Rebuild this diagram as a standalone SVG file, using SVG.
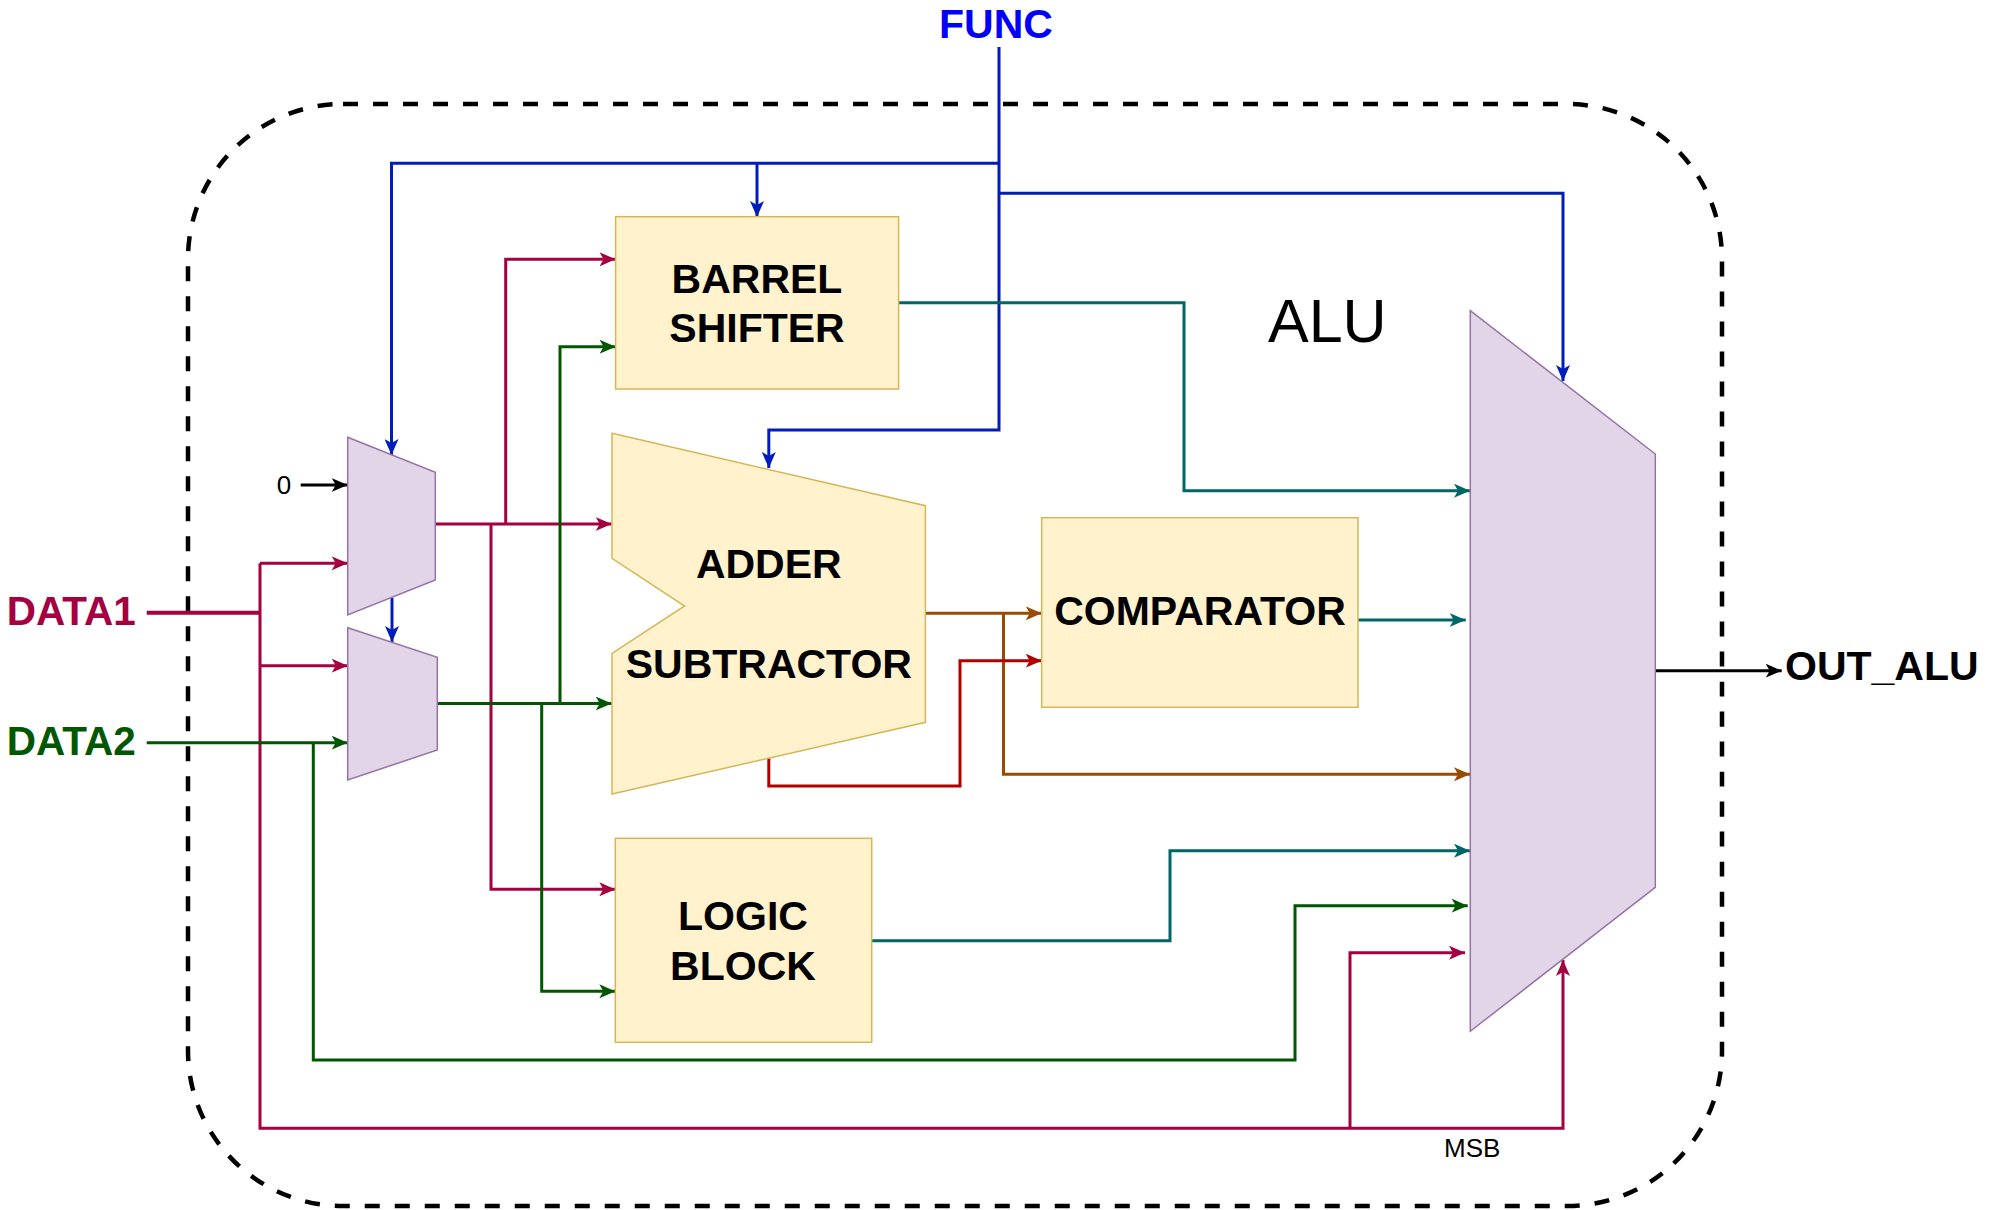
<svg xmlns="http://www.w3.org/2000/svg" width="2000" height="1210" viewBox="0 0 2000 1210">
<style>
.mux{fill:#E1D5E7;stroke:#9673A6;stroke-width:1.5}
.blk{fill:#FFF2CC;stroke:#D6B656;stroke-width:1.5}
.w{fill:none;stroke-width:3;stroke-linejoin:miter}
.r{stroke:#A50040}.g{stroke:#005700}.b{stroke:#001DBC}.t{stroke:#006666}.o{stroke:#994C00}.d{stroke:#B20000}.k{stroke:#000}
.lbl{font-family:"Liberation Sans",Arial,Helvetica,sans-serif;font-weight:bold;font-size:41px}
.reg{font-family:"Liberation Sans",Arial,Helvetica,sans-serif;font-size:26px}
</style>
<defs>
<marker id="ar" markerUnits="userSpaceOnUse" markerWidth="16" markerHeight="14" viewBox="0 0 16 14" refX="16" refY="7" orient="auto"><path d="M0,0 L16,7 L0,14 L4,7 Z" fill="#A50040"/></marker>
<marker id="ag" markerUnits="userSpaceOnUse" markerWidth="16" markerHeight="14" viewBox="0 0 16 14" refX="16" refY="7" orient="auto"><path d="M0,0 L16,7 L0,14 L4,7 Z" fill="#005700"/></marker>
<marker id="ab" markerUnits="userSpaceOnUse" markerWidth="16" markerHeight="14" viewBox="0 0 16 14" refX="16" refY="7" orient="auto"><path d="M0,0 L16,7 L0,14 L4,7 Z" fill="#001DBC"/></marker>
<marker id="at" markerUnits="userSpaceOnUse" markerWidth="16" markerHeight="14" viewBox="0 0 16 14" refX="16" refY="7" orient="auto"><path d="M0,0 L16,7 L0,14 L4,7 Z" fill="#006666"/></marker>
<marker id="ao" markerUnits="userSpaceOnUse" markerWidth="16" markerHeight="14" viewBox="0 0 16 14" refX="16" refY="7" orient="auto"><path d="M0,0 L16,7 L0,14 L4,7 Z" fill="#994C00"/></marker>
<marker id="ad" markerUnits="userSpaceOnUse" markerWidth="16" markerHeight="14" viewBox="0 0 16 14" refX="16" refY="7" orient="auto"><path d="M0,0 L16,7 L0,14 L4,7 Z" fill="#B20000"/></marker>
<marker id="ak" markerUnits="userSpaceOnUse" markerWidth="16" markerHeight="14" viewBox="0 0 16 14" refX="16" refY="7" orient="auto"><path d="M0,0 L16,7 L0,14 L4,7 Z" fill="#000"/></marker>
</defs>
<rect width="2000" height="1210" fill="#fff"/>

<g id="alu-border">
<rect x="188" y="104" width="1534" height="1102" rx="155" ry="155" fill="none" stroke="#000" stroke-width="4.5" stroke-dasharray="15 15"/>
<text x="1268" y="342" font-family="Liberation Sans,Arial,sans-serif" font-size="61">ALU</text>
</g>

<g id="connectors">
<!-- FUNC blue -->
<path class="w b" d="M999,47 V430 H768.8 V468" marker-end="url(#ab)"/>
<path class="w b" d="M999,163.3 H391.5 V455" marker-end="url(#ab)"/>
<path class="w b" d="M757,163.3 V217" marker-end="url(#ab)"/>
<path class="w b" d="M999,193.3 H1563 V381" marker-end="url(#ab)"/>
<path class="w b" d="M392,598 V642" marker-end="url(#ab)"/>
<!-- DATA1 red -->
<path class="w r" d="M146.7,612.7 H260" style="stroke-width:4"/>
<path class="w r" d="M260,563.3 V1128.3 H1563 V960" marker-end="url(#ar)"/>
<path class="w r" d="M260,563.3 H347.7" marker-end="url(#ar)"/>
<path class="w r" d="M260,665.7 H347.7" marker-end="url(#ar)"/>
<path class="w r" d="M1350,1128.3 V952.7 H1465" marker-end="url(#ar)"/>
<!-- mux1 output red -->
<path class="w r" d="M435.3,524 H611.7" marker-end="url(#ar)"/>
<path class="w r" d="M505.7,524 V259.3 H615.6" marker-end="url(#ar)"/>
<path class="w r" d="M491,524 V889.3 H615.3" marker-end="url(#ar)"/>
<!-- DATA2 green -->
<path class="w g" d="M146.7,742.7 H347.7" marker-end="url(#ag)"/>
<path class="w g" d="M313.3,742.7 V1060 H1295 V905.7 H1467.7" marker-end="url(#ag)"/>
<!-- mux2 output green -->
<path class="w g" d="M437.3,703.5 H611.7" marker-end="url(#ag)"/>
<path class="w g" d="M560,703.5 V346.7 H615.6" marker-end="url(#ag)"/>
<path class="w g" d="M541.7,703.5 V991.3 H615.3" marker-end="url(#ag)"/>
<!-- teal outputs -->
<path class="w t" d="M898.7,302.7 H1184 V490.7 H1470" marker-end="url(#at)"/>
<path class="w t" d="M1358,620 H1465.7" marker-end="url(#at)"/>
<path class="w t" d="M871.7,940.7 H1170 V850.7 H1470" marker-end="url(#at)"/>
<!-- brown adder output -->
<path class="w o" d="M925.4,613.3 H1041.7" marker-end="url(#ao)"/>
<path class="w o" d="M1003.5,613.3 V774.3 H1470" marker-end="url(#ao)"/>
<!-- dark red carry -->
<path class="w d" d="M768.8,758 V786 H960 V660.7 H1041.7" marker-end="url(#ad)"/>
<!-- black -->
<path class="w k" d="M300.7,485 H347.7" marker-end="url(#ak)"/>
<path class="w k" d="M1655.3,670.7 H1781.7" marker-end="url(#ak)"/>
</g>

<g id="mux1"><polygon class="mux" points="347.7,437.3 435.3,472.3 435.3,580 347.7,615"/></g>
<g id="mux2"><polygon class="mux" points="347.7,627.7 437.3,657.3 437.3,750 347.7,780"/></g>
<g id="out-mux"><polygon class="mux" points="1470.3,310.7 1655.3,454 1655.3,887.3 1470.3,1031.3"/></g>

<g id="barrel-shifter">
<rect class="blk" x="615.6" y="216.7" width="283" height="172.3"/>
<text class="lbl" x="757" y="293" text-anchor="middle">BARREL</text>
<text class="lbl" x="757" y="342" text-anchor="middle">SHIFTER</text>
</g>
<g id="adder-subtractor">
<polygon class="blk" points="612,433.3 925.4,505.7 925.4,722.3 612,794 612,653.3 684.6,606 612,558.3"/>
<text class="lbl" x="768.8" y="578.3" text-anchor="middle">ADDER</text>
<text class="lbl" x="768.8" y="678.3" text-anchor="middle">SUBTRACTOR</text>
</g>
<g id="comparator">
<rect class="blk" x="1041.7" y="517.7" width="316.3" height="189.6"/>
<text class="lbl" x="1200" y="625" text-anchor="middle">COMPARATOR</text>
</g>
<g id="logic-block">
<rect class="blk" x="615.3" y="838.3" width="256.4" height="204"/>
<text class="lbl" x="743" y="930" text-anchor="middle">LOGIC</text>
<text class="lbl" x="743" y="980" text-anchor="middle">BLOCK</text>
</g>

<g id="labels">
<text class="lbl" x="996" y="38" text-anchor="middle" fill="#0000FF">FUNC</text>
<text class="lbl" x="6.7" y="625" fill="#A50040" style="font-size:40.5px">DATA1</text>
<text class="lbl" x="6.7" y="755" fill="#005700" style="font-size:40.5px">DATA2</text>
<text class="lbl" x="1785" y="680">OUT_ALU</text>
<text class="reg" x="276.7" y="494">0</text>
<text class="reg" x="1444" y="1157">MSB</text>
</g>
</svg>
